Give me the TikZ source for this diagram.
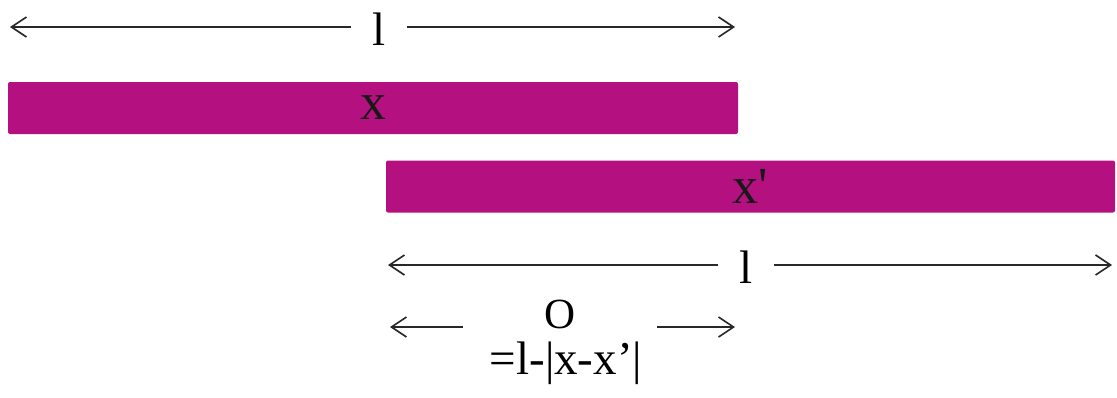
\documentclass[tikz,border=0pt]{standalone}
\usepackage{fontspec}
\setmainfont{Liberation Serif}
\newfontfamily\plainserif{Liberation Serif}
\usetikzlibrary{arrows.meta}
\definecolor{barmag}{RGB}{180,16,128}
\definecolor{arrgray}{RGB}{40,40,40}
\begin{document}
\begin{tikzpicture}[x=1pt,y=-1pt,
  bar/.style={draw=none,fill=barmag,rounded corners=2pt,minimum height=52pt,inner sep=0pt,
    font=\fontsize{52}{52}\selectfont,text=black!90},
  lbl/.style={inner sep=0pt,font=\fontsize{47}{47}\selectfont},
  arr/.style={draw=arrgray,line width=1.6pt,-{Straight Barb[length=15pt,width=20pt,line width=1.6pt]}}
]
\useasboundingbox (0,0) rectangle (1117,397);
% top dimension
\node[lbl,minimum width=52pt] (l1) at (379,29) {l};
\coordinate (l1a) at (10,27);
\coordinate (l1b) at (735,27);
\draw[arr] (l1.west |- l1a) ++(-2,0) coordinate (l1w) (l1w) -- (l1a);
\draw[arr] (l1.east |- l1b) ++(2,0) coordinate (l1e) (l1e) -- (l1b);
% bars
\node[bar,minimum width=730pt] (bx) at (373,108) {x};
\node[bar,minimum width=729pt] (bxp) at (750.5,186.5) {x{\plainserif\char"27}};
% second dimension
\node[lbl,minimum width=52pt] (l2) at (746,267) {l};
\coordinate (l2a) at (388,265);
\coordinate (l2b) at (1112,265);
\draw[arr] (l2.west |- l2a) ++(-2,0) coordinate (l2w) (l2w) -- (l2a);
\draw[arr] (l2.east |- l2b) ++(2,0) coordinate (l2e) (l2e) -- (l2b);
% overlap
\node[inner sep=0pt,font=\fontsize{43}{43}\selectfont,minimum width=190pt] (ov) at (560,314) {O};
\node[inner sep=0pt,font=\fontsize{47}{47}\selectfont,anchor=base] (eq) at (566,374) {=l-|x-x’|};
\coordinate (ova) at (390,327);
\coordinate (ovb) at (735,327);
\draw[arr] (ov.west |- ova) ++(-2,0) coordinate (ovw) (ovw) -- (ova);
\draw[arr] (ov.east |- ovb) ++(2,0) coordinate (ove) (ove) -- (ovb);
\end{tikzpicture}
\end{document}
